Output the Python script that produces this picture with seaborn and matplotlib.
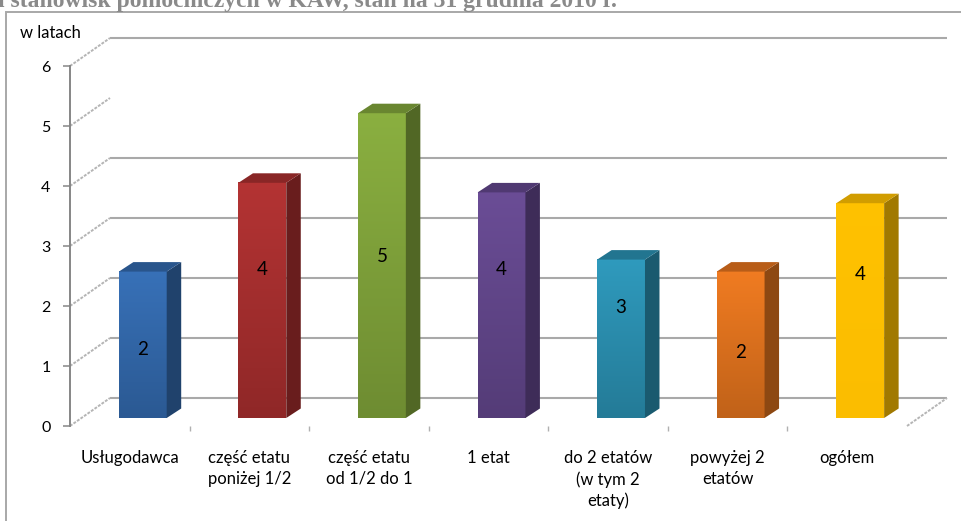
import numpy as np
import matplotlib
matplotlib.use("Agg")
import matplotlib.pyplot as plt
import seaborn as sns
import pandas as pd
from matplotlib.patches import Polygon, Rectangle
from matplotlib.colors import to_rgb

# ---- data -------------------------------------------------------------
categories = ["Usługodawca", "część etatu\nponiżej 1/2", "część etatu\nod 1/2 do 1",
              "1 etat", "do 2 etatów\n(w tym 2\netaty)", "powyżej 2\netatów", "ogółem"]
years = [2.44, 3.92, 5.08, 3.76, 2.64, 2.44, 3.58]
y_ticks = [0, 1, 2, 3, 4, 5, 6]
unit_label = "w latach"
title = "i stanowisk pomocniczych w KAW, stan na 31 grudnia 2010 r."

# ---- style ------------------------------------------------------------
front_colors = ["#3268ab", "#a72e2e", "#80a33a", "#62468b", "#2a8fb0", "#e0721d", "#ffc000"]
shading = [1, 1, 1, 1, 1, 1, 0.1]                          # strength of the vertical gradient
label_frac = [0.47, 0.63, 0.53, 0.66, 0.70, 0.45, 0.67]   # vertical spot of value labels
plt.rcParams["font.family"] = ["Lato", "DejaVu Sans"]

W, H = 962, 521
fig = plt.figure(figsize=(W / 100, H / 100), dpi=100)
ax = fig.add_axes([70 / W, (H - 426) / H, 837 / W, 360 / H])
XLIM, YLIM = (-0.5, 6.5), (0, 6)

# pixel -> data unit conversion of the front plane
ux = (XLIM[1] - XLIM[0]) / 837
uy = (YLIM[1] - YLIM[0]) / 360
WALL = (40 * ux, 28 * uy)      # depth of the back wall
BAR_OFF = (13 * ux, 8 * uy)    # bars stand a little behind the front plane
BAR_DEPTH = (14.5 * ux, 9.5 * uy)

df = pd.DataFrame({"kat": categories, "lata": years})
sns.barplot(data=df, x="kat", y="lata", hue="kat", palette=front_colors,
            saturation=1, width=0.4, legend=False, ax=ax, zorder=2)

# back wall grid, left wall edges and floor edge
grid_levels = [0, 1, 2, 3, 4, 6]
for lv in grid_levels:
    ax.plot([XLIM[0] + WALL[0], XLIM[1] + WALL[0]], [lv + WALL[1]] * 2,
            color="#a9a9a9", lw=1.5, clip_on=False, zorder=0.5, solid_capstyle="butt")
for lv in y_ticks:
    ax.plot([XLIM[0], XLIM[0] + WALL[0]], [lv, lv + WALL[1]], color="#b5b5b5",
            lw=1.4, ls=(0, (1.5, 0.7)), clip_on=False, zorder=0.5)
ax.plot([XLIM[1], XLIM[1] + WALL[0]], [0, WALL[1]], color="#b5b5b5",
        lw=1.4, ls=(0, (1.5, 0.7)), clip_on=False, zorder=0.5)

# turn each flat bar into a shaded column
for patch, col, val, frac, sh in zip(ax.patches, front_colors, years, label_frac, shading):
    x0 = patch.get_x() + BAR_OFF[0]
    w = patch.get_width()
    h = patch.get_height()
    y0 = BAR_OFF[1]
    patch.set_x(x0)
    patch.set_y(y0)
    patch.set_edgecolor("none")
    x1 = x0 + w
    base = np.array(to_rgb(col))
    top_c = np.clip(base * (1 + 0.06 * sh) + 0.01 * sh, 0, 1)
    bot_c = base * (1 - 0.14 * sh)
    t = np.linspace(0, 1, 64)[:, None]
    grad = (top_c * (1 - t) + bot_c * t)[:, None, :]
    ax.imshow(grad, extent=(x0, x1, y0, y0 + h), aspect="auto", zorder=2.1,
              interpolation="bilinear", clip_on=False)
    dx, dy = BAR_DEPTH
    side = Polygon([(x1, y0), (x1, y0 + h), (x1 + dx, y0 + h + dy), (x1 + dx, y0 + dy)],
                   closed=True, facecolor=base * 0.63, edgecolor="none", zorder=2.2,
                   clip_on=False)
    top = Polygon([(x0, y0 + h), (x1, y0 + h), (x1 + dx, y0 + h + dy), (x0 + dx, y0 + h + dy)],
                  closed=True, facecolor=base * 0.82, edgecolor="none", zorder=2.2,
                  clip_on=False)
    ax.add_patch(side)
    ax.add_patch(top)
    ax.text(x0 + w / 2, y0 + h * frac, f"{val:.0f}", ha="center", va="center",
            fontsize=13.5, color="black", zorder=3)

ax.set_xlim(*XLIM)
ax.set_ylim(*YLIM)
ax.set_xlabel("")
ax.set_ylabel("")
for s in ["top", "right", "bottom"]:
    ax.spines[s].set_visible(False)
ax.spines["left"].set_color("#868686")
ax.spines["left"].set_linewidth(1.4)
ax.set_facecolor("none")

ax.set_yticks(y_ticks)
ax.tick_params(axis="y", length=5, width=1.1, color="#868686", pad=9, labelsize=11.5)
ax.set_xticks(range(len(categories)))
ax.set_xticklabels(categories, linespacing=1.35, fontsize=12)
ax.tick_params(axis="x", which="major", length=0, pad=17.5)
ax.set_xticks(np.arange(0.5, len(categories) - 1, 1), minor=True)
ax.tick_params(axis="x", which="minor", length=3.6, width=1, color="#b0b0b0")

# chart frame, unit label and the title line above
fig.patches.append(Rectangle((6 / W, -0.1), 2, 1 - 12 / H + 0.1, transform=fig.transFigure,
                             fill=False, edgecolor="#a8a8a8", lw=1.4))
fig.text(20 / W, 1 - 33 / H, unit_label, ha="left", va="center", fontsize=12)
fig.text(-2 / W, 1 - 7 / H, title, ha="left", va="baseline", fontsize=17,
         fontweight="bold", family=["Liberation Serif", "DejaVu Serif"], color="#8a8a8a")

fig.savefig("out.png", dpi=100)
